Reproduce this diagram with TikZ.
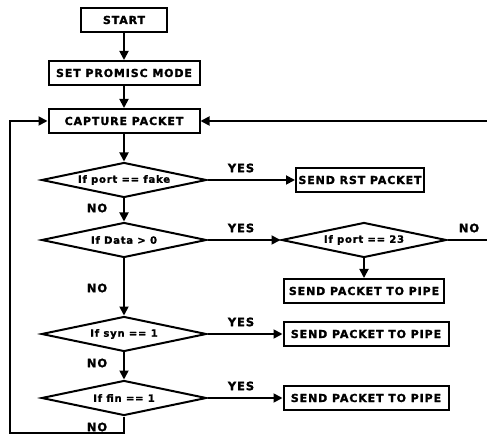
\documentclass[tikz,border=0pt]{standalone}
\usepackage{fontspec}
\newfontfamily\flowfont[LetterSpace=8,FakeBold=1.5]{DejaVu Sans Bold}
\usetikzlibrary{shapes.geometric,arrows.meta}
\tikzstyle{stepbox}=[draw,line width=2pt,minimum height=24pt,inner sep=0pt,font=\flowfont\fontsize{11}{13}\selectfont]
\tikzstyle{decision}=[draw,diamond,aspect=4.7,line width=2pt,minimum width=165pt,minimum height=35pt,inner sep=0pt,font=\flowfont\fontsize{10}{12}\selectfont]
\tikzstyle{lbl}=[inner sep=0pt,font=\flowfont\fontsize{11.5}{13}\selectfont]
\tikzstyle{arr}=[line width=1.8pt,-{Triangle[length=9pt,width=9pt]}]
\tikzstyle{ln}=[line width=1.8pt]

\begin{document}
\begin{tikzpicture}[x=1pt,y=-1pt]
    \useasboundingbox (0,0) rectangle (487,435);
    \node[stepbox,minimum width=86pt] (start) at (124,20) {START};
    \node[stepbox,minimum width=151pt] (promisc) at (124,73) {SET PROMISC MODE};
    \node[stepbox,minimum width=151pt] (capture) at (124,121) {CAPTURE PACKET};
    \node[decision] (d1) at (124,180) {If port == fake};
    \node[decision] (d2) at (124,240) {If Data > 0};
    \node[decision] (d3) at (364,240) {If port == 23};
    \node[decision] (d4) at (124,334) {If syn == 1};
    \node[decision] (d5) at (124,398) {If fin == 1};
    \node[stepbox,minimum width=128pt] (rst) at (360,180) {SEND RST PACKET};
    \node[stepbox,minimum width=160pt] (pipe1) at (364,291) {SEND PACKET TO PIPE};
    \node[stepbox,minimum width=165pt] (pipe2) at (366,334) {SEND PACKET TO PIPE};
    \node[stepbox,minimum width=165pt] (pipe3) at (366,398) {SEND PACKET TO PIPE};

    \node[lbl] (yes1) at (241,168) {YES};
    \node[lbl] (yes2) at (241,228) {YES};
    \node[lbl] (yes3) at (241,322) {YES};
    \node[lbl] (yes4) at (241,386) {YES};
    \node[lbl] (no1) at (97,208) {NO};
    \node[lbl] (no2) at (97,288) {NO};
    \node[lbl] (no3) at (97,363) {NO};
    \node[lbl] (no4) at (97,427) {NO};
    \node[lbl] (no5) at (469,228) {NO};

    \coordinate (rtop) at (487,121);
    \coordinate (rno) at (487,240);
    \coordinate (lbot) at (10,433);
    \coordinate (mbot) at (124,433);
    \coordinate (ltop) at (10,121);

    \foreach \from/\to in {start/promisc,promisc/capture,capture/d1,d1/d2,d2/d4,d4/d5,d3/pipe1,d1/rst,d2/d3,d4/pipe2,d5/pipe3,rtop/capture}
    \draw[arr] (\from) -- (\to);
    \draw[ln] (d3.east) -- (rno);
    \draw[arr] (d5.south) -- (mbot) -- (lbot) -- (ltop) -- (capture);
\end{tikzpicture}
\end{document}
